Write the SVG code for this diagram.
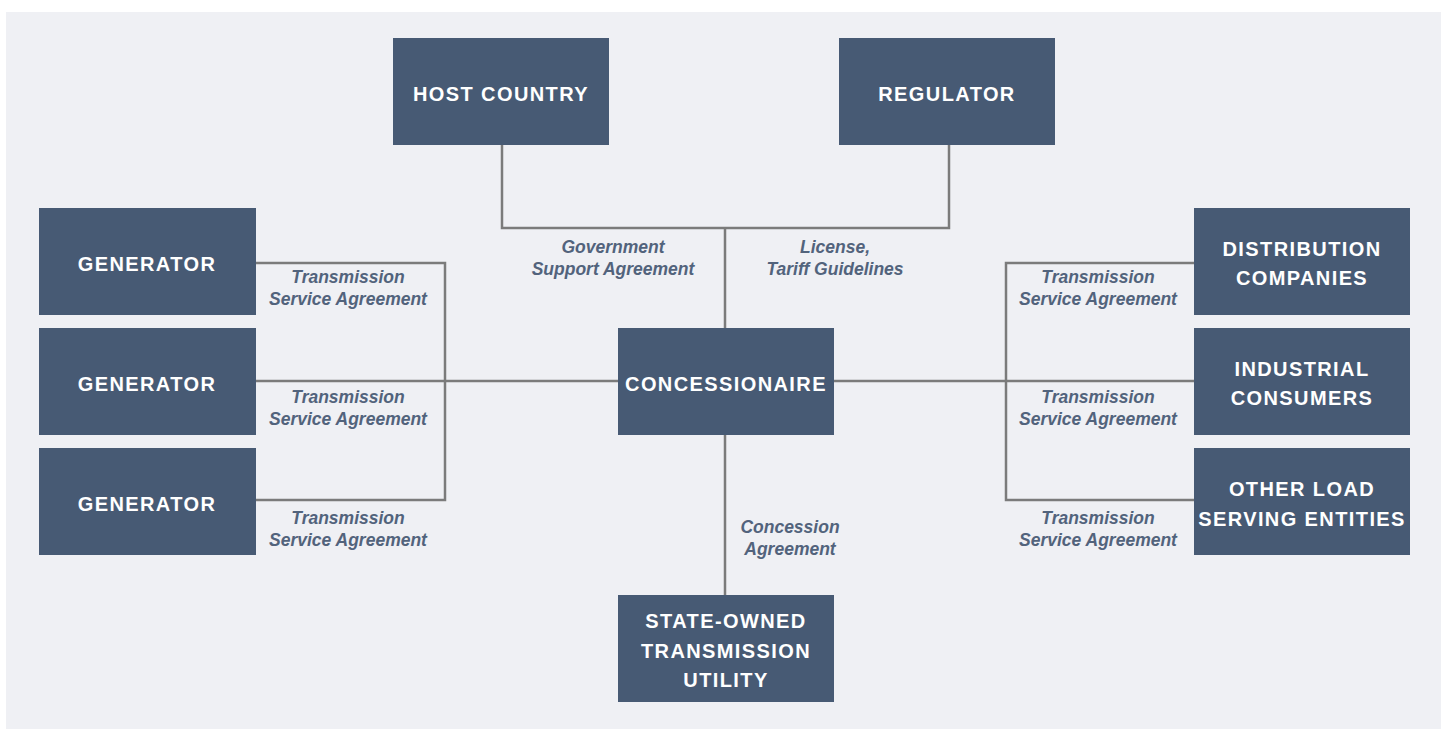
<svg xmlns="http://www.w3.org/2000/svg" width="1447" height="729" viewBox="0 0 1447 729">
<style>
.bg{fill:#eff0f4}
.box{fill:#475a74}
.bt{font-family:"Liberation Sans",Arial,sans-serif;font-weight:bold;font-size:20px;fill:#ffffff;text-anchor:middle;letter-spacing:1.4px}
.lt{font-family:"Liberation Sans",Arial,sans-serif;font-style:italic;font-weight:bold;font-size:17.5px;fill:#52637c;text-anchor:middle}
.ln{fill:none;stroke:#7b7b7b;stroke-width:2.5}
</style>
<rect x="0" y="0" width="1447" height="729" fill="#ffffff"/>
<rect class="bg" x="6" y="12" width="1435" height="717"/>
<g id="connectors">
<path class="ln" d="M502,145 V228 H949 V145"/>
<path class="ln" d="M725,228 V328"/>
<path class="ln" d="M256,263 H445 V500 H256"/>
<path class="ln" d="M256,381 H618"/>
<path class="ln" d="M1194,263 H1006 V500 H1194"/>
<path class="ln" d="M834,381 H1194"/>
<path class="ln" d="M725,435 V595"/>
</g>
<g id="labels">
<text class="lt" x="613" y="253">Government</text>
<text class="lt" x="613" y="275">Support Agreement</text>
<text class="lt" x="835" y="253">License,</text>
<text class="lt" x="835" y="275">Tariff Guidelines</text>
<text class="lt" x="348" y="283">Transmission</text>
<text class="lt" x="348" y="305">Service Agreement</text>
<text class="lt" x="348" y="403">Transmission</text>
<text class="lt" x="348" y="425">Service Agreement</text>
<text class="lt" x="348" y="524">Transmission</text>
<text class="lt" x="348" y="546">Service Agreement</text>
<text class="lt" x="1098" y="283">Transmission</text>
<text class="lt" x="1098" y="305">Service Agreement</text>
<text class="lt" x="1098" y="403">Transmission</text>
<text class="lt" x="1098" y="425">Service Agreement</text>
<text class="lt" x="1098" y="524">Transmission</text>
<text class="lt" x="1098" y="546">Service Agreement</text>
<text class="lt" x="790" y="533">Concession</text>
<text class="lt" x="790" y="555">Agreement</text>
</g>
<g id="host-country"><rect class="box" x="393" y="38" width="216" height="107"/><text class="bt" x="501" y="101">HOST COUNTRY</text></g>
<g id="regulator"><rect class="box" x="839" y="38" width="216" height="107"/><text class="bt" x="947" y="101">REGULATOR</text></g>
<g id="generator-1"><rect class="box" x="39" y="208" width="217" height="107"/><text class="bt" x="147" y="271">GENERATOR</text></g>
<g id="generator-2"><rect class="box" x="39" y="328" width="217" height="107"/><text class="bt" x="147" y="391">GENERATOR</text></g>
<g id="generator-3"><rect class="box" x="39" y="448" width="217" height="107"/><text class="bt" x="147" y="511">GENERATOR</text></g>
<g id="concessionaire"><rect class="box" x="618" y="328" width="216" height="107"/><text class="bt" x="726" y="391">CONCESSIONAIRE</text></g>
<g id="distribution-companies"><rect class="box" x="1194" y="208" width="216" height="107"/><text class="bt" x="1302" y="256">DISTRIBUTION</text><text class="bt" x="1302" y="285">COMPANIES</text></g>
<g id="industrial-consumers"><rect class="box" x="1194" y="328" width="216" height="107"/><text class="bt" x="1302" y="376">INDUSTRIAL</text><text class="bt" x="1302" y="405">CONSUMERS</text></g>
<g id="other-load"><rect class="box" x="1194" y="448" width="216" height="107"/><text class="bt" x="1302" y="496">OTHER LOAD</text><text class="bt" x="1302" y="526">SERVING ENTITIES</text></g>
<g id="state-owned"><rect class="box" x="618" y="595" width="216" height="107"/><text class="bt" x="726" y="628">STATE-OWNED</text><text class="bt" x="726" y="658">TRANSMISSION</text><text class="bt" x="726" y="687">UTILITY</text></g>
</svg>
